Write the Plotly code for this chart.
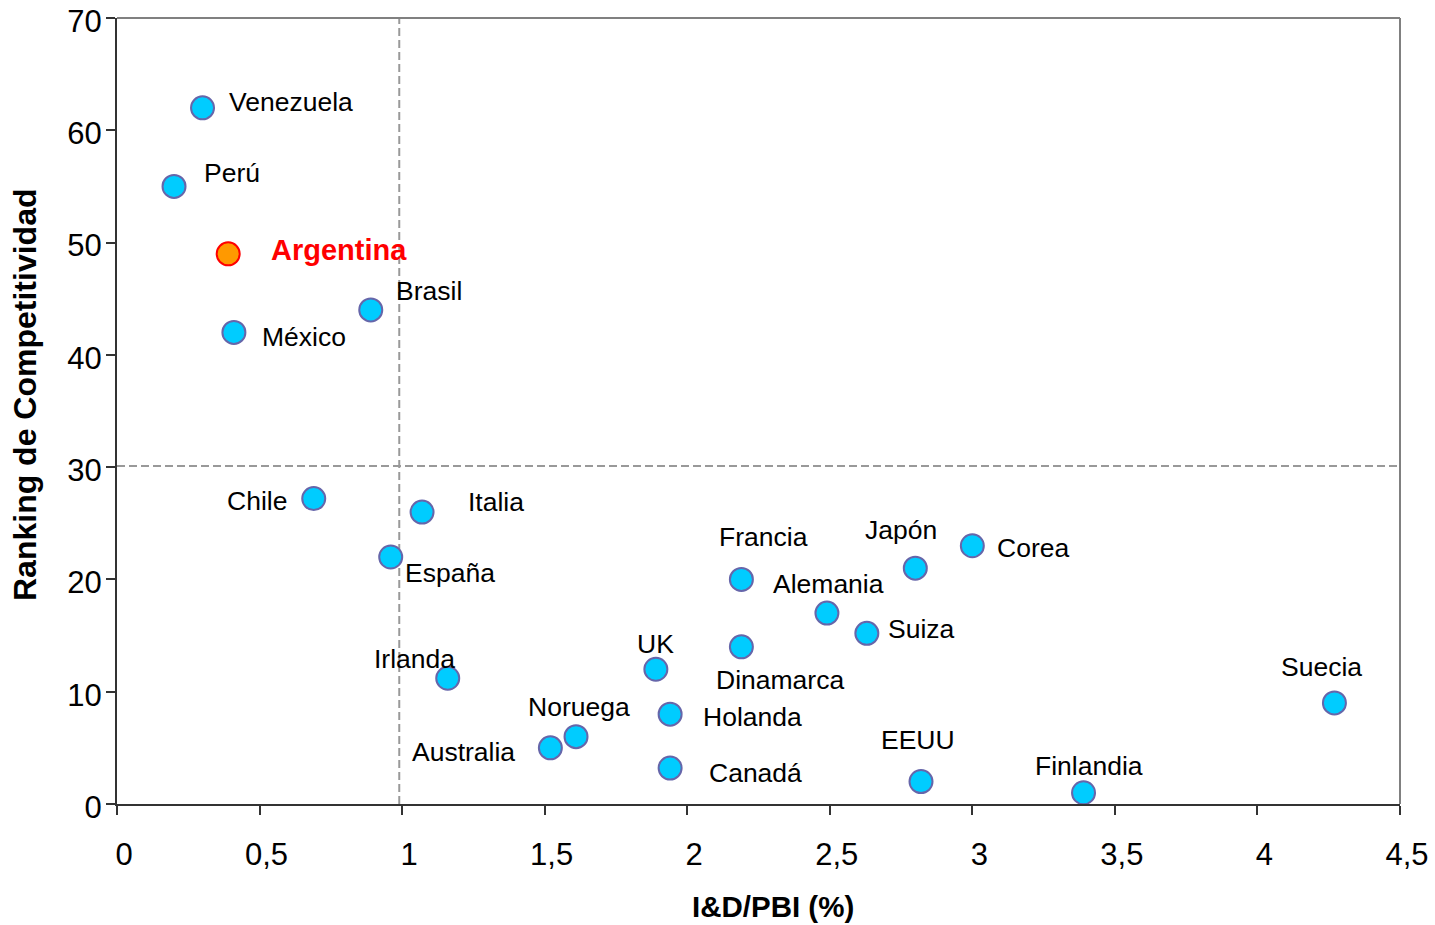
import plotly.graph_objects as go

# ---- data ----
countries = ["Venezuela", "Perú", "Argentina", "México", "Brasil", "Chile", "Italia",
             "España", "Francia", "Japón", "Corea", "Alemania", "Suiza", "Dinamarca",
             "UK", "Irlanda", "Holanda", "Noruega", "Australia", "Canadá", "EEUU",
             "Finlandia", "Suecia"]
id_pbi = [0.30, 0.20, 0.39, 0.41, 0.89, 0.69, 1.07, 0.96, 2.19, 2.80, 3.00, 2.49, 2.63,
          2.19, 1.89, 1.16, 1.94, 1.61, 1.52, 1.94, 2.82, 3.39, 4.27]
ranking = [62, 55, 49, 42, 44, 27.2, 26, 22, 20, 21, 23, 17, 15.2, 14, 12, 11.2, 8, 6, 5,
           3.2, 2, 1, 9]
x_ticks = [0, 0.5, 1, 1.5, 2, 2.5, 3, 3.5, 4, 4.5]
x_tick_labels = ["0", "0,5", "1", "1,5", "2", "2,5", "3", "3,5", "4", "4,5"]
y_ticks = [0, 10, 20, 30, 40, 50, 60, 70]
highlight = "Argentina"
ref_x = 0.99
ref_y = 30.1

# ---- label placement (style) : anchor, xshift, yshift ----
label_style = {
    "Venezuela": ("left", 27, 5), "Perú": ("left", 31, 12), "Argentina": ("left", 44, 3),
    "México": ("left", 29, -6), "Brasil": ("left", 26, 18), "Chile": ("right", -28, -3),
    "Italia": ("left", 47, 9), "España": ("left", 15, -17), "Francia": ("left", -21, 41),
    "Japón": ("left", -49, 37), "Corea": ("left", 26, -3), "Alemania": ("left", -53, 28),
    "Suiza": ("left", 22, 3), "Dinamarca": ("left", -24, -34), "UK": ("left", -18, 24),
    "Irlanda": ("left", -73, 18), "Holanda": ("left", 34, -4), "Noruega": ("left", -47, 29),
    "Australia": ("right", -36, -5), "Canadá": ("left", 40, -6), "EEUU": ("left", -39, 41),
    "Finlandia": ("left", -48, 26), "Suecia": ("left", -52, 35),
}
PAD = 3  # annotation inner padding compensation

FONT = "Liberation Sans, Arial, sans-serif"

fills = ["#FF9900" if c == highlight else "#00CCFF" for c in countries]
edges = ["#FF0000" if c == highlight else "#6666AA" for c in countries]

fig = go.Figure()
fig.add_trace(go.Scatter(
    x=id_pbi, y=ranking, mode="markers", hoverinfo="text", text=countries,
    marker=dict(size=23, color=fills, line=dict(color=edges, width=2)),
    showlegend=False, cliponaxis=False,
))

for c, xv, yv in zip(countries, id_pbi, ranking):
    anc, xs, ys = label_style[c]
    xs = xs - PAD if anc == "left" else xs + PAD
    is_hl = c == highlight
    fig.add_annotation(
        x=xv, y=yv, text=f"<b>{c}</b>" if is_hl else c, showarrow=False,
        xanchor=anc, yanchor="middle", xshift=xs, yshift=ys + 1,
        font=dict(family=FONT, size=29 if is_hl else 26.5,
                  color="#FF0000" if is_hl else "#000000"),
    )

# reference dashed lines
fig.add_shape(type="line", x0=ref_x, x1=ref_x, y0=0, y1=70, xref="x", yref="y",
              line=dict(color="#999999", width=2, dash="8px,4px"), layer="below")
fig.add_shape(type="line", x0=0, x1=4.5, y0=ref_y, y1=ref_y, xref="x", yref="y",
              line=dict(color="#999999", width=2, dash="8px,4px"), layer="below")
# grey top / right frame
fig.add_shape(type="line", x0=0, x1=1, y0=1, y1=1, xref="paper", yref="paper",
              line=dict(color="#808080", width=2))
fig.add_shape(type="line", x0=1, x1=1, y0=0, y1=1, xref="paper", yref="paper",
              line=dict(color="#808080", width=2))

fig.update_xaxes(
    range=[0, 4.5], tickvals=x_ticks, ticktext=x_tick_labels, automargin=False,
    showgrid=False, zeroline=False, showline=True, linecolor="#333333", linewidth=2,
    ticks="outside", ticklen=9, tickwidth=1.5, tickcolor="#333333",
    tickfont=dict(family=FONT, size=31, color="#000000"), ticklabelstandoff=13,
    ticklabelshift=7, ticklabeloverflow="allow",
)
fig.update_yaxes(
    range=[0, 70], tickvals=y_ticks, automargin=False,
    showgrid=False, zeroline=False, showline=True, linecolor="#333333", linewidth=2,
    ticks="outside", ticklen=9, tickwidth=1.5, tickcolor="#333333",
    tickfont=dict(family=FONT, size=31, color="#000000"), ticklabelstandoff=-2,
    ticklabelshift=3, ticklabeloverflow="allow",
)

PW, PH = 1283, 786  # plot area size in px
fig.add_annotation(
    x=(773 - 117) / PW, y=-(906 - 804) / PH, xref="paper", yref="paper",
    text="<b>I&amp;D/PBI (%)</b>", showarrow=False, xanchor="center", yanchor="middle",
    font=dict(family=FONT, size=29.5, color="#000000"),
)
fig.add_annotation(
    x=(25 - 117) / PW, y=(804 - 395) / PH, xref="paper", yref="paper",
    text="<b>Ranking de Competitividad</b>", showarrow=False, textangle=-90,
    xanchor="center", yanchor="middle",
    font=dict(family=FONT, size=32, color="#000000"),
)

fig.update_layout(
    width=1435, height=925, autosize=False,
    margin=dict(l=117, r=35, t=18, b=121, autoexpand=False),
    paper_bgcolor="white", plot_bgcolor="white",
    font=dict(family=FONT, color="#000000"),
)

fig.write_html("out.html", config={"displayModeBar": False},
               post_script="document.body.style.margin='0';")
